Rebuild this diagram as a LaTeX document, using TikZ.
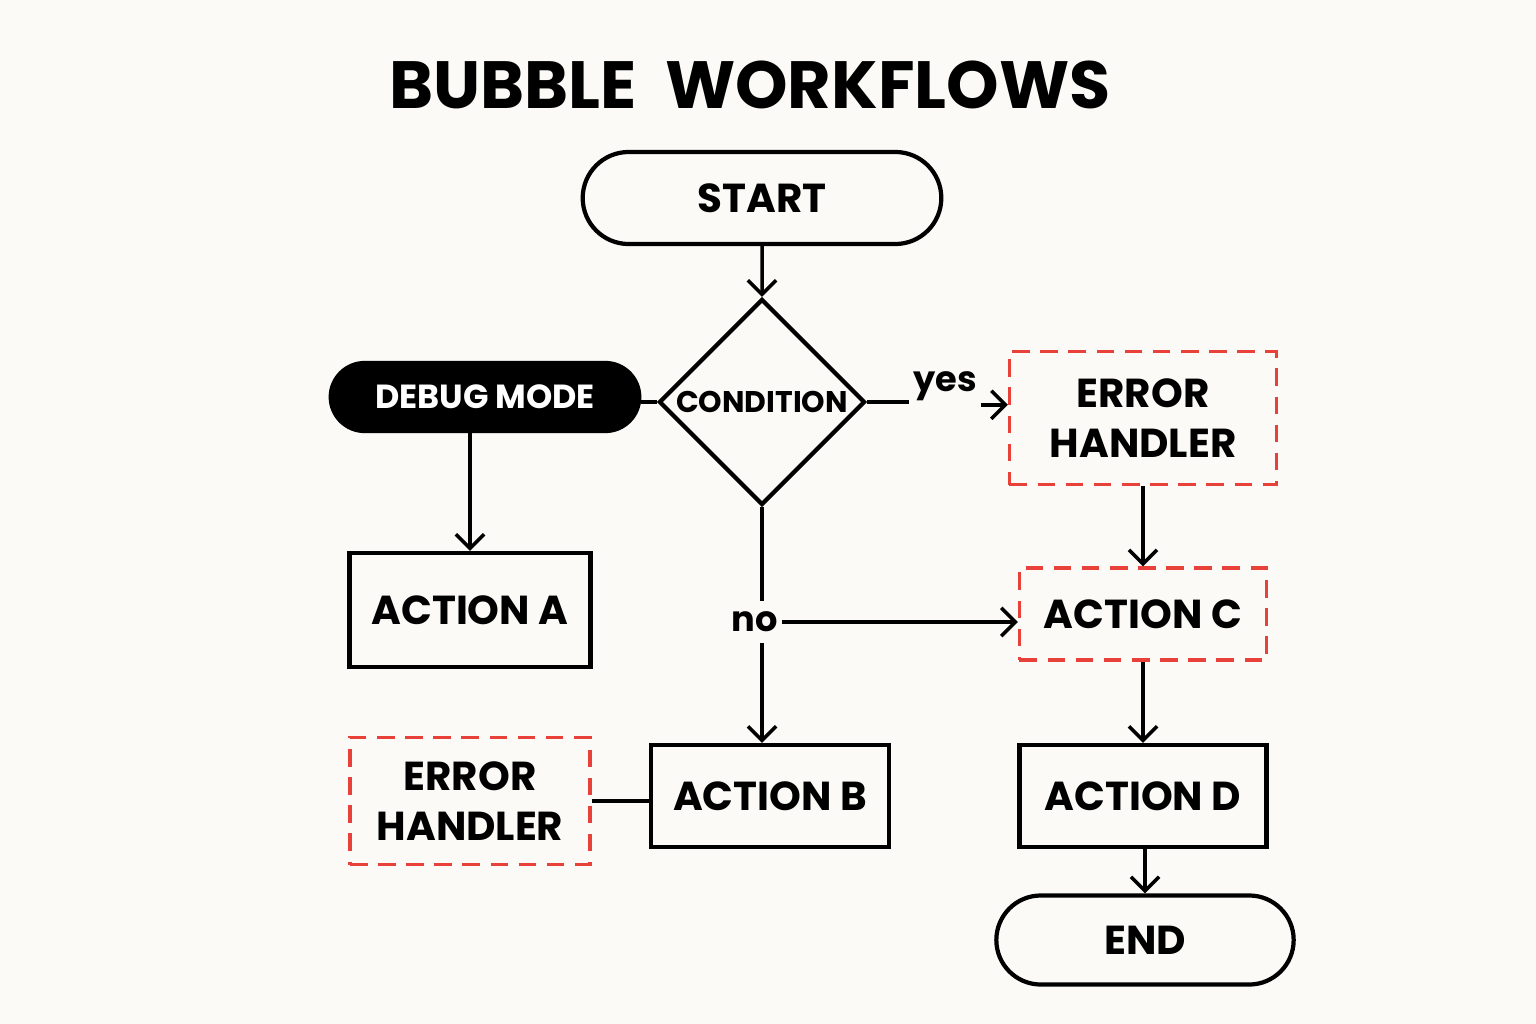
\documentclass[tikz,border=0pt]{standalone}
\usepackage{fontspec}
\setmainfont{Poppins}
\usetikzlibrary{shapes.geometric,shapes.misc,arrows.meta}
\definecolor{paper}{HTML}{FBFAF7}
\definecolor{errred}{HTML}{E8413A}
\tikzset{
  pill/.style={draw,line width=1.2pt,rounded rectangle,minimum width=2.35cm,minimum height=0.92cm,font=\fontsize{11.5}{13}\selectfont\bfseries},
  box/.style={draw,line width=1.2pt,minimum width=2.4cm,minimum height=1.05cm,font=\fontsize{11.5}{13}\selectfont\bfseries,align=center},
  errbox/.style={draw=errred,line width=0.9pt,dash pattern=on 5pt off 3pt,minimum width=2.45cm,minimum height=0.95cm,font=\fontsize{11.5}{13}\selectfont\bfseries,align=center},
  link/.style={line width=1pt},
  flow/.style={link,-{Straight Barb[length=4pt,width=8pt]}}
}
\begin{document}
\begin{tikzpicture}[x=0.01cm,y=-0.01cm]
  \fill[paper] (0,0) rectangle (1536,1024);
  \node[font=\fontsize{19}{23}\selectfont\bfseries] (title) at (750,85) {BUBBLE\ \ WORKFLOWS};
  % main column
  \node[pill,inner xsep=32pt] (start) at (762,198) {START};
  \node[draw,line width=1.2pt,diamond,aspect=1,minimum size=2.06cm,inner sep=0pt,font=\fontsize{8.5}{10}\selectfont\bfseries] (cond) at (762,402) {CONDITION};
  \node[pill,fill=black,text=white,minimum height=0.68cm,inner xsep=12pt,font=\fontsize{9.5}{11}\selectfont\bfseries] (debug) at (485,397) {DEBUG MODE};
  \node[box,minimum width=2.41cm,minimum height=1.14cm] (acta) at (470,610) {ACTION A};
  \node[box,minimum width=2.38cm,minimum height=1.02cm] (actb) at (770,796) {ACTION B};
  \node[errbox,minimum width=2.4cm,minimum height=1.27cm] (err2) at (470,801) {ERROR\\[1pt]HANDLER};
  % right column
  \node[errbox,minimum width=2.67cm,minimum height=1.33cm] (err1) at (1143,418) {ERROR\\[1pt]HANDLER};
  \node[errbox,minimum width=2.47cm,minimum height=0.92cm] (actc) at (1143,614) {ACTION C};
  \node[box,minimum width=2.47cm,minimum height=1.02cm] (actd) at (1143,796) {ACTION D};
  \node[pill,minimum height=0.89cm,inner xsep=30pt] (finish) at (1145,940) {END};
  % labels
  \node[font=\fontsize{10}{12}\selectfont\bfseries,inner sep=1pt] (yes) at (945,386) {yes};
  \node[font=\fontsize{10}{12}\selectfont\bfseries,inner sep=3pt] (no) at (755,622) {no};
  % connectors
  \draw[flow] (start) -- (cond);
  \draw[link] (cond.west) -- (cond.west -| debug.east);
  \draw[flow] (debug.south -| acta.north) -- (acta.north);
  \draw[link] (cond.east) -- (cond.east -| yes.west);
  \draw[flow] (yes.south east) -- (err1.west |- yes.south east);
  \draw[link] (cond.south) -- (cond.south |- no.north);
  \draw[flow] (cond.south |- no.south) -- (cond.south |- actb.north);
  \draw[flow] ([xshift=-5]no.east -| 800,0) -- (actc.west |- no.east);
  \draw[flow] (err1) -- (actc);
  \draw[flow] (actc) -- (actd);
  \draw[flow] (actd.south -| finish.north) -- (finish.north);
  \draw[link] (err2.east) -- (err2.east -| actb.west);
\end{tikzpicture}
\end{document}
